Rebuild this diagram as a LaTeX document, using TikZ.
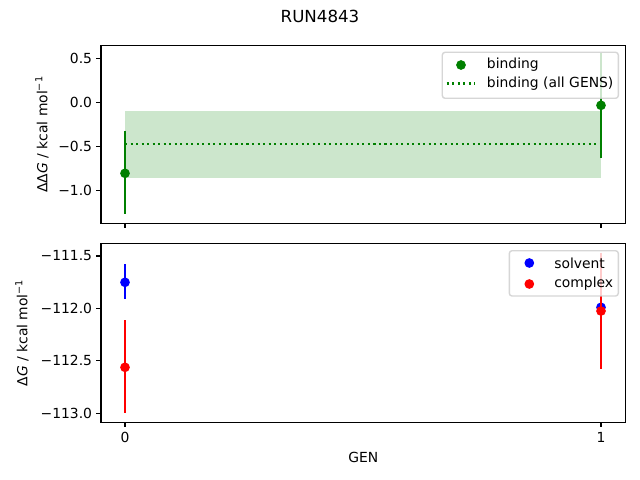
\documentclass[tikz,border=0pt]{standalone}
\usepackage{fontspec}
\setmainfont{DejaVu Sans}
\newfontfamily\obl{DejaVu Sans Oblique}
\begin{document}
\begin{tikzpicture}[x=0.72pt,y=-0.72pt,
  font=\fontsize{10}{12}\selectfont,
  spine/.style={line width=0.8pt,black},
  tickmark/.style={line width=0.8pt,black},
  ylab/.style={anchor=east,inner sep=0pt},
  xlab/.style={anchor=north,inner sep=0pt},
  errbar/.style={line width=1.5pt},
  dot/.style={circle,inner sep=0pt,minimum size=7pt},
  legbox/.style={draw=black!20,draw opacity=0.8,fill=white,fill opacity=0.8,rounded corners=2pt,line width=1pt},
  legtext/.style={anchor=west,inner sep=0pt,text opacity=1}]
\definecolor{mgreen}{HTML}{008000}
\definecolor{bandgreen}{HTML}{CCE6CC}
\useasboundingbox (0,0) rectangle (640,480);
\fill[white] (0,0) rectangle (640,480);
% title
\node (title) at (320,16) {\fontsize{12}{14}\selectfont RUN4843};
% ---------- top axes ----------
\fill[bandgreen] (125,111) rectangle (601,178.3);
\draw[mgreen,line width=1.5pt,dash pattern=on 1.5pt off 2.475pt] (125,143.7) -- (601,143.7);
\coordinate (t0a) at (125,130.7); \coordinate (t0b) at (125,214);
\coordinate (t1a) at (601,52.9); \coordinate (t1b) at (601,157.7);
\draw[errbar,mgreen] (t0a) -- (t0b);
\draw[errbar,mgreen] (t1a) -- (t1b);
\node[dot,fill=mgreen] (p0) at (125,173.3) {};
\node[dot,fill=mgreen] (p1) at (601,105.3) {};
% legend top
\draw[legbox] (442.3,52.3) rectangle (618.3,98.3);
\node[dot,fill=mgreen] (lg1) at (461,65) {};
\node[legtext] (lt1) at (486.7,65) {binding};
\coordinate (ld1) at (446.7,83.5); \coordinate (ld2) at (475,83.5);
\draw[mgreen,line width=1.5pt,dash pattern=on 1.5pt off 2.475pt] (ld1) -- (ld2);
\node[legtext] (lt2) at (486.7,83.5) {binding (all GENS)};
\draw[spine] (101,45.3) rectangle (625.7,223.3);
% ticks top
\foreach \yy/\lab in {58.4/0.5,102.5/0.0,146.6/{−0.5},190.7/{−1.0}}{
  \draw[tickmark] (101,\yy) -- (96.1,\yy);
  \node[ylab] at (92.3,\yy) {\lab};
}
\foreach \xx in {125,601}{\draw[tickmark] (\xx,223.3) -- (\xx,228.2);}
\node[rotate=90] (ylabtop) at (42,134.3) {ΔΔ{\obl G} / kcal mol\textsuperscript{−1}};
% ---------- bottom axes ----------
\coordinate (s0a) at (125,264); \coordinate (s0b) at (125,299.3);
\coordinate (c0a) at (125,320); \coordinate (c0b) at (125,413.3);
\coordinate (s1a) at (601,290); \coordinate (s1b) at (601,325);
\coordinate (c1a) at (601,252.7); \coordinate (c1b) at (601,369.3);
\draw[errbar,blue] (s0a) -- (s0b);
\draw[errbar,blue] (s1a) -- (s1b);
\node[dot,fill=blue] (sp0) at (125,282.3) {};
\node[dot,fill=blue] (sp1) at (601,307.3) {};
\draw[errbar,red] (c0a) -- (c0b);
\draw[errbar,red] (c1a) -- (c1b);
\node[dot,fill=red] (cp0) at (125,367.3) {};
\node[dot,fill=red] (cp1) at (601,311) {};
% legend bottom
\draw[legbox] (509.3,250.7) rectangle (618.3,296);
\node[dot,fill=blue] (lg3) at (529.3,263) {};
\node[legtext] (lt3) at (554,263) {solvent};
\node[dot,fill=red] (lg4) at (529.3,284) {};
\node[legtext] (lt4) at (554,284) {complex};
\draw[spine] (101,243.3) rectangle (625.7,422.3);
\foreach \yy/\lab in {256/{−111.5},308.4/{−112.0},360.9/{−112.5},413.3/{−113.0}}{
  \draw[tickmark] (101,\yy) -- (96.1,\yy);
  \node[ylab] at (92.3,\yy) {\lab};
}
\foreach \xx/\lab in {125/0,601/1}{
  \draw[tickmark] (\xx,422.3) -- (\xx,427.2);
  \node[xlab] at (\xx,432) {\lab};
}
\node[rotate=90] (ylabbot) at (22,332.8) {Δ{\obl G} / kcal mol\textsuperscript{−1}};
\node (xlabel) at (363.3,457.3) {GEN};
\end{tikzpicture}
\end{document}
